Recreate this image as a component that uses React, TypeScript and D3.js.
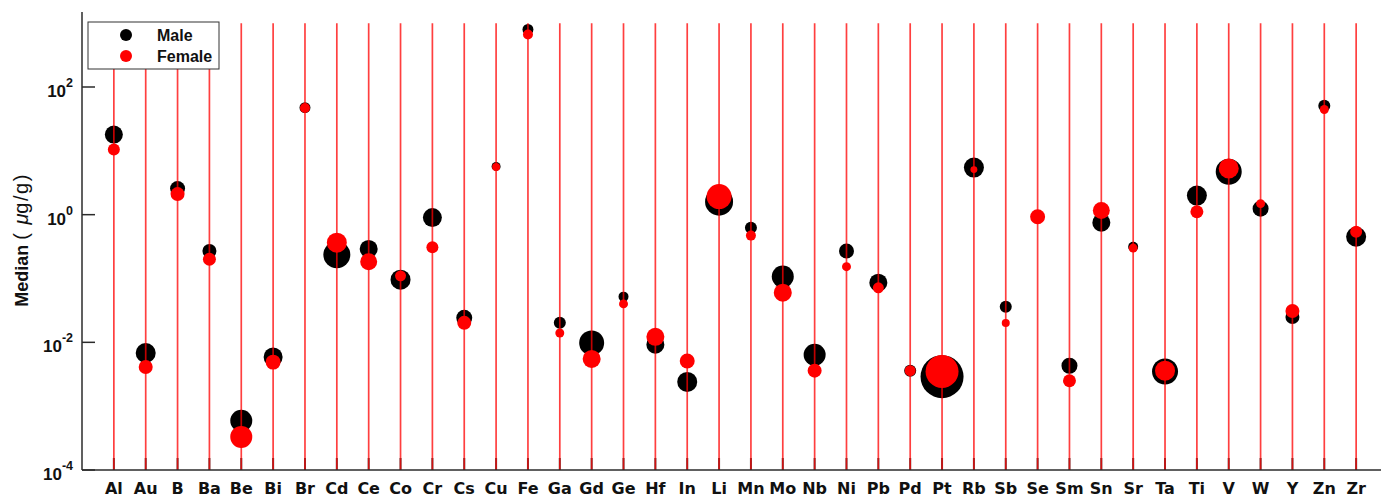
import React, { useEffect } from "react";
import * as d3 from "d3";

// elements on the x axis
const elements = [
  "Al", "Au", "B", "Ba", "Be", "Bi", "Br", "Cd", "Ce", "Co",
  "Cr", "Cs", "Cu", "Fe", "Ga", "Gd", "Ge", "Hf", "In", "Li",
  "Mn", "Mo", "Nb", "Ni", "Pb", "Pd", "Pt", "Rb", "Sb", "Se",
  "Sm", "Sn", "Sr", "Ta", "Ti", "V", "W", "Y", "Zn", "Zr",
];

// median concentrations (ug/g)
const maleMedian = [
  18, 0.0068, 2.56, 0.27, 0.00059, 0.0059, 47.5, 0.236, 0.29, 0.096,
  0.9, 0.0242, 5.7, 796, 0.0202, 0.0098, 0.052, 0.0092, 0.0024, 1.6,
  0.625, 0.107, 0.0064, 0.27, 0.086, 0.0036, 0.0029, 5.46, 0.036, 0.93,
  0.0043, 0.75, 0.315, 0.0035, 1.99, 4.7, 1.24, 0.025, 51, 0.45,
];
const femaleMedian = [
  10.5, 0.0041, 2.1, 0.2, 0.00033, 0.0049, 47, 0.364, 0.183, 0.11,
  0.31, 0.0202, 5.6, 665, 0.014, 0.0055, 0.04, 0.0122, 0.0051, 1.92,
  0.47, 0.06, 0.0036, 0.153, 0.0716, 0.0036, 0.0035, 5.08, 0.02, 0.93,
  0.0025, 1.16, 0.3, 0.0036, 1.11, 5.3, 1.49, 0.031, 44.4, 0.54,
];

// bubble weights (area)
const maleN = [
  81, 100, 56, 49, 121, 90, 30, 182, 81, 100,
  90, 64, 20, 30, 36, 156, 25, 81, 100, 196,
  36, 121, 121, 56, 81, 36, 462, 100, 36, 36,
  64, 81, 25, 169, 100, 169, 64, 49, 36, 100,
];
const femaleN = [
  36, 49, 49, 42, 121, 56, 25, 100, 72, 30,
  36, 49, 16, 25, 20, 81, 20, 81, 56, 156,
  25, 81, 49, 20, 30, 30, 272, 12, 16, 56,
  42, 72, 20, 100, 42, 100, 20, 49, 20, 36,
];

const yTicks = [1e-4, 1e-2, 1, 1e2];
const yTickExp = ["-4", "-2", "0", "2"];
const legendItems = [
  { label: "Male", color: "#000000" },
  { label: "Female", color: "#ff0000" },
];

const width = 1381;
const height = 498;
const axisLeft = 82;
const axisBottom = 470;
const axisTop = 12;
const axisColor = "#2b2b2b";

export default function App() {
  useEffect(() => {
    document.body.style.margin = "0";
  }, []);

  const x = d3.scalePoint<string>().domain(elements).range([axisLeft, 1388]).padding(1);
  const y = d3.scaleLog().domain([1e-4, 1e2]).range([axisBottom, 87]);
  const r = d3.scaleSqrt().domain([0, 400]).range([0, 20]);

  return (
    <svg width={width} height={height} style={{ display: "block", background: "#fff" }}>
      {/* male bubbles */}
      <g>
        {elements.map((e, i) => (
          <circle key={"m" + e} cx={x(e)} cy={y(maleMedian[i])} r={r(maleN[i])} fill="#000" />
        ))}
      </g>
      {/* female bubbles */}
      <g>
        {elements.map((e, i) => (
          <circle key={"f" + e} cx={x(e)} cy={y(femaleMedian[i])} r={r(femaleN[i])} fill="#ff0000" />
        ))}
      </g>
      {/* x ticks */}
      <g>
        {elements.map((e) => (
          <line key={"t" + e} x1={x(e)} x2={x(e)} y1={axisBottom} y2={axisBottom - 12} stroke="#444" strokeWidth={2} />
        ))}
      </g>
      {/* stems */}
      <g>
        {elements.map((e) => (
          <line key={"s" + e} x1={x(e)} x2={x(e)} y1={y(1e-4)} y2={y(1e3)} stroke="#ff0000" strokeWidth={1.7} opacity={0.75} />
        ))}
      </g>
      {/* axes */}
      <line x1={axisLeft} x2={axisLeft} y1={axisTop} y2={axisBottom} stroke={axisColor} strokeWidth={1.5} />
      <line x1={axisLeft} x2={width} y1={axisBottom} y2={axisBottom} stroke={axisColor} strokeWidth={1.5} />
      {yTicks.map((t, i) => (
        <g key={"y" + t}>
          <line x1={axisLeft} x2={axisLeft + 13} y1={y(t)} y2={y(t)} stroke={axisColor} strokeWidth={1.5} />
          <text
            x={73}
            y={y(t) + 10}
            textAnchor="end"
            fontFamily="'Liberation Sans', Arial, sans-serif"
            fontWeight="bold"
            fontSize={17}
            fill="#111"
          >
            10
            <tspan dy={-10} fontSize={12.5}>{yTickExp[i]}</tspan>
          </text>
        </g>
      ))}
      {/* x labels */}
      {elements.map((e) => (
        <text
          key={"l" + e}
          x={x(e)}
          y={494}
          textAnchor="middle"
          fontFamily="'DejaVu Sans', Verdana, sans-serif"
          fontWeight="bold"
          fontSize={16}
          fill="#111"
        >
          {e}
        </text>
      ))}
      {/* y label */}
      <text
        transform="translate(28,240) rotate(-90)"
        textAnchor="middle"
        fontFamily="'Liberation Sans', Arial, sans-serif"
        fill="#111"
      >
        <tspan fontWeight="bold" fontSize={18}>Median </tspan>
        <tspan fontSize={20} letterSpacing={1.5}>( </tspan>
        <tspan fontSize={20} fontStyle="italic">μ</tspan>
        <tspan fontSize={20} letterSpacing={1.5}>g/g)</tspan>
      </text>
      {/* legend */}
      <g>
        <rect x={88} y={22} width={131} height={47} fill="#fff" stroke="#333" strokeWidth={1} />
        {legendItems.map((d, i) => (
          <g key={d.label}>
            <circle cx={126} cy={35 + i * 21} r={6} fill={d.color} />
            <text
              x={157}
              y={41 + i * 21}
              fontFamily="'Liberation Sans', Arial, sans-serif"
              fontWeight="bold"
              fontSize={16}
              fill="#111"
            >
              {d.label}
            </text>
          </g>
        ))}
      </g>
    </svg>
  );
}
